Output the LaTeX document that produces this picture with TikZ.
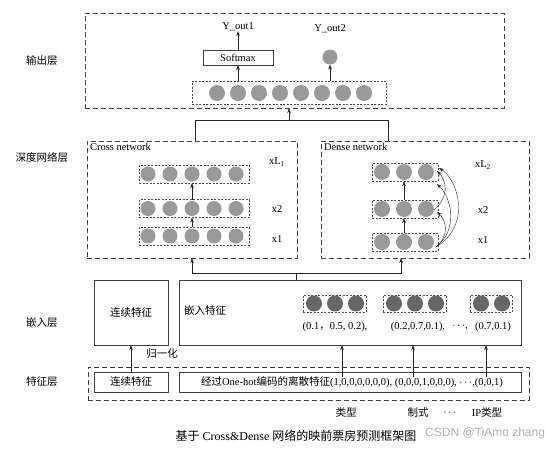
\documentclass[tikz,border=0pt]{standalone}
\usepackage{fontspec}
\setmainfont{Liberation Serif}
\newfontfamily\cjk{Noto Sans CJK SC}
\newfontfamily\wmfont{Liberation Sans}
\usetikzlibrary{arrows.meta}

\begin{document}
\begin{tikzpicture}[x=1pt, y=-1pt,
  every node/.style={font=\fontsize{10.5}{12}\selectfont, inner sep=0pt, outer sep=0pt},
  layerbox/.style={draw=black!75, dash pattern=on 5pt off 3pt, thick},
  groupbox/.style={draw=black!70, dash pattern=on 2pt off 1.5pt},
  plainbox/.style={draw=black!75, thick},
  unit/.style={circle, fill=black!40, minimum size=15pt},
  embunit/.style={circle, fill=black!60, minimum size=16pt},
  arr/.style={-{Stealth[length=5pt, width=3.5pt]}, black!85},
  link/.style={black!85}]
\useasboundingbox (0,0) rectangle (547,451);

\node (lout) at (42,61) {\cjk 输出层};
\node (ldeep) at (42,157) {\cjk 深度网络层};
\node (lemb) at (42,323) {\cjk 嵌入层};
\node (lfeat) at (42,382) {\cjk 特征层};

\node[layerbox, minimum width=419pt, minimum height=95pt] (outbox) at (294.5,60.5) {};
\node[groupbox, minimum width=194pt, minimum height=23pt] (outrow) at (289,92.5) {};
\foreach \i in {0,...,7}
  \node[unit, minimum size=16pt] (o\i) at (217+21*\i,93) {};
\node[plainbox, thin, minimum width=70pt, minimum height=15pt] (softmax) at (238,57.5) {Softmax};
\node (yout1) at (238,27) {Y\_out1};
\node[unit] (y2) at (330,57) {};
\node (yout2) at (330,29) {Y\_out2};
\draw[arr] (softmax |- outrow.north) -- (softmax.south);
\draw[arr] (softmax.north) -- (yout1.south);
\draw[arr] (y2 |- outrow.north) -- (y2.south);

\node[layerbox, minimum width=210pt, minimum height=117pt] (crossbox) at (192,199.5) {};
\node[anchor=north west] at (90,143) {Cross network};
\foreach \r/\y in {1/236,2/208.5,3/174}{
  \node[groupbox, minimum width=110pt, minimum height=18pt] (c\r) at (194,\y) {};
  \foreach \i in {0,...,4}
    \node[unit] (c\r-\i) at (148+22*\i,\y) {};
}
\draw[arr] (c1-2 |- c1.north) -- (c1-2 |- c2.south);
\draw[arr] (c2-2 |- c2.north) -- (c2-2 |- c3.south);
\node (cxl) at (277,162) {xL\textsubscript{1}};
\node (cx2) at (277,209) {x2};
\node (cx1) at (277,239) {x1};

\node[layerbox, minimum width=208pt, minimum height=117pt] (densebox) at (425,199.5) {};
\node[anchor=north west] at (324,143) {Dense network};
\foreach \r/\y in {1/242,2/209,3/172}{
  \node[groupbox, minimum width=66pt, minimum height=18pt] (d\r) at (405,\y) {};
  \foreach \i in {0,...,2}
    \node[unit, minimum size=16pt] (d\r-\i) at (382+22*\i,\y) {};
}
\draw[arr] (d1-1 |- d1.north) -- (d1-1 |- d2.south);
\draw[arr] (d2-1 |- d2.north) -- (d2-1 |- d3.south);
\coordinate (dsrc) at (436,247);
\draw[arr] (dsrc) .. controls (450,235) and (446,220) .. (437,212);
\draw[arr] (dsrc) .. controls (460,228) and (450,196) .. (437,184);
\draw[arr] (dsrc) .. controls (472,225) and (458,180) .. (439,168);
\draw[arr] (434,210) .. controls (450,196) and (446,180) .. (437,171);
\node (dxl) at (483,165) {xL\textsubscript{2}};
\node (dx2) at (483,210) {x2};
\node (dx1) at (483,240) {x1};

\coordinate (jc) at (195,120);
\coordinate (jd) at (388,120);
\coordinate (jo) at (289,120);
\draw[link] (jc |- crossbox.north) -- (jc) -- (jd) -- (jd |- densebox.north);
\draw[arr] (jo) -- (jo |- outbox.south);

\node[plainbox, minimum width=74pt, minimum height=65pt] (contemb) at (131,312.5) {\cjk 连续特征};
\node[plainbox, minimum width=342pt, minimum height=65pt] (embbox) at (350,312.5) {};
\node[anchor=west] at (184,310) {\cjk 嵌入特征};
\node[groupbox, minimum width=63pt, minimum height=17pt] (g1) at (334.5,303.5) {};
\node[groupbox, minimum width=63pt, minimum height=17pt] (g2) at (414.5,303.5) {};
\node[groupbox, minimum width=42pt, minimum height=17pt] (g3) at (491,303.5) {};
\foreach \i in {0,1,2}{
  \node[embunit] (g1-\i) at (314+21*\i,303.5) {};
  \node[embunit] (g2-\i) at (394+21*\i,303.5) {};
}
\foreach \i in {0,1}
  \node[embunit] (g3-\i) at (481+21*\i,303.5) {};
\node (v1) at (335,327) {(0.1{\cjk ，}0.5, 0.2),};
\node (v2) at (418,327) {(0.2,0.7,0.1),};
\node (vd) at (460,327) {$\cdots$,};
\node (v3) at (493,327) {(0.7,0.1)};

\coordinate (ja) at (192,273);
\coordinate (jb) at (401,273);
\coordinate (je) at (296,273);
\draw[link] (je |- embbox.north) -- (je);
\draw[arr] (je) -| (crossbox.south -| ja);
\draw[arr] (je) -| (densebox.south -| jb);

\node[layerbox, minimum width=441pt, minimum height=33pt] (featbox) at (308.5,383.5) {};
\node[plainbox, minimum width=74pt, minimum height=20pt] (contfeat) at (131,382) {\cjk 连续特征};
\node[plainbox, minimum width=342pt, minimum height=20pt] (discfeat) at (350,382) {};
\node (disctext) at (352,382) {{\cjk 经过}One-hot{\cjk 编码的离散特征}(1,0,0,0,0,0,0), (0,0,0,1,0,0,0), $\cdots$,(0,0,1)};
\draw[arr] (contfeat.north) -- (contemb.south);
\node (norm) at (162,354) {\cjk 归一化};
\coordinate (t1) at (342,377);
\coordinate (t2) at (413,377);
\coordinate (t3) at (486,377);
\foreach \t in {t1,t2,t3}
  \draw[arr] (\t) -- (\t |- embbox.south);

\node (kind) at (346,413) {\cjk 类型};
\node (sys) at (418,413) {\cjk 制式};
\node (kdots) at (450,413) {$\cdots$};
\node (ipkind) at (487,413) {IP{\cjk 类型}};

\node[font=\fontsize{12}{14}\selectfont] (caption) at (296,436) {{\cjk 基于} Cross\&Dense {\cjk 网络的映前票房预测框架图}};
\node[anchor=east, font=\wmfont\fontsize{12}{14}\selectfont, text=black!30] (mark) at (545,433) {CSDN @TiAmo zhang};
\end{tikzpicture}
\end{document}
